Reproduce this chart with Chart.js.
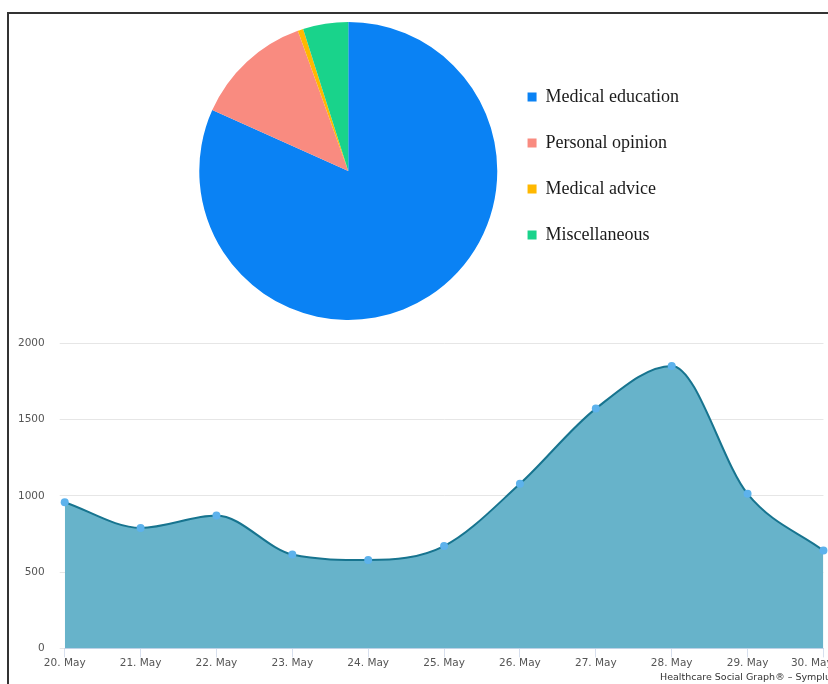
<!DOCTYPE html>
<html lang="en">
<head>
    <meta charset="UTF-8">
    <title>Tweet categories and volume</title>
    <style>
        html, body {
            margin: 0;
            padding: 0;
            width: 828px;
            height: 684px;
            overflow: hidden;
            background: #fff;
        }
        #frame {
            position: absolute;
            left: 7px;
            top: 12px;
            width: 900px;
            height: 700px;
            border-top: 2px solid #333;
            border-left: 2px solid #333;
        }
        #pieChart {
            position: absolute;
            left: 0;
            top: 0;
        }
        #volumeChart {
            position: absolute;
            left: 0;
            top: 322px;
        }
        #credit {
            position: absolute;
            left: 660px;
            top: 671px;
            font: 9.5px/12px 'DejaVu Sans', sans-serif;
            color: #333;
            white-space: nowrap;
        }
    </style>
    <script src="https://cdn.jsdelivr.net/npm/chart.js"></script>
</head>
<body>
    <div id="frame"></div>
    <canvas id="pieChart" width="828" height="340"></canvas>
    <canvas id="volumeChart" width="856" height="362"></canvas>
    <div id="credit">Healthcare Social Graph® – Symplur</div>
    <script>
        // pie: share of tweets per category (percent)
        const categories = ['Medical education', 'Personal opinion', 'Medical advice', 'Miscellaneous'];
        const categoryShares = [81.7, 12.8, 0.6, 4.9];
        const categoryColors = ['#0a82f4', '#f98b80', '#ffb800', '#19d38b'];

        // area chart: tweets per day
        const days = ['20. May', '21. May', '22. May', '23. May', '24. May', '25. May',
                      '26. May', '27. May', '28. May', '29. May', '30. May'];
        const tweetCounts = [958, 790, 871, 615, 579, 671, 1079, 1572, 1852, 1013, 641];
        const yTicks = [0, 500, 1000, 1500, 2000];

        Chart.defaults.devicePixelRatio = 1;

        // move the legend up a little, it sits a bit above the pie centre in the original
        const nudgeLegend = {
            id: 'nudgeLegend',
            afterLayout(chart) {
                chart.legend.top -= 5;
                chart.legend.bottom -= 5;
            }
        };

        new Chart(document.getElementById('pieChart').getContext('2d'), {
            type: 'pie',
            data: {
                labels: categories,
                datasets: [{
                    data: categoryShares,
                    backgroundColor: categoryColors,
                    borderWidth: 0,
                    hoverOffset: 0
                }]
            },
            options: {
                responsive: false,
                animation: false,
                layout: {
                    padding: { top: 22, bottom: 20, left: 197, right: 139 }
                },
                plugins: {
                    legend: {
                        position: 'right',
                        labels: {
                            boxWidth: 9,
                            boxHeight: 9,
                            padding: 28,
                            color: '#1a1a1a',
                            font: { family: 'Liberation Serif', size: 18 }
                        }
                    },
                    tooltip: { enabled: false }
                }
            },
            plugins: [nudgeLegend]
        });

        new Chart(document.getElementById('volumeChart').getContext('2d'), {
            type: 'line',
            data: {
                labels: days,
                datasets: [{
                    data: tweetCounts,
                    fill: 'origin',
                    backgroundColor: '#67b3ca',
                    borderColor: '#17748f',
                    borderWidth: 2,
                    cubicInterpolationMode: 'monotone',
                    pointRadius: 4,
                    pointBackgroundColor: '#5db2ec',
                    pointBorderWidth: 0,
                    clip: false
                }]
            },
            options: {
                responsive: false,
                animation: false,
                layout: {
                    padding: { left: 3, top: 0, right: 0, bottom: 14 }
                },
                scales: {
                    x: {
                        offset: false,
                        grid: {
                            drawOnChartArea: false,
                            tickLength: 9,
                            color: '#d8e0ee'
                        },
                        border: { color: '#ccd6eb' },
                        ticks: {
                            padding: 0,
                            maxRotation: 0,
                            autoSkip: false,
                            color: '#555',
                            font: { family: 'DejaVu Sans', size: 10.5 },
                            // last label is pushed inwards like in the original
                            callback: (v, i) => i === days.length - 1 ? days[i] + '       ' : days[i]
                        }
                    },
                    y: {
                        min: 0,
                        max: 2000,
                        afterBuildTicks(axis) {
                            axis.ticks = yTicks.map(v => ({ value: v }));
                        },
                        grid: {
                            color: '#e6e6e6',
                            tickLength: 5
                        },
                        border: { display: false },
                        ticks: {
                            padding: 15,
                            color: '#555',
                            font: { family: 'DejaVu Sans', size: 10.5 },
                            callback: v => String(v)
                        }
                    }
                },
                plugins: {
                    legend: { display: false },
                    tooltip: { enabled: false }
                }
            }
        });
    </script>
</body>
</html>
